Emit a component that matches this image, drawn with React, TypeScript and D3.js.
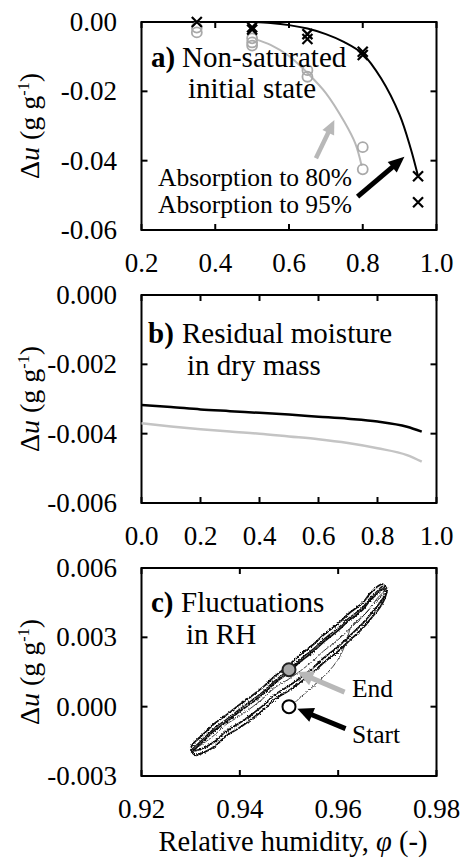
import React from 'react';
import * as d3 from 'd3';

const FONT = '"Liberation Serif", "Times New Roman", serif';
const FS_TICK = 27;
const FS_NOTE = 25.5;
const FS_TITLE = 29;

// ---------- Panel a ----------
const aXTicks = [0.2, 0.4, 0.6, 0.8, 1.0];
const aYTicks = [0, -0.02, -0.04, -0.06];
const aPhi95 = [0.35, 0.5, 0.5, 0.65, 0.65, 0.8, 0.8, 0.95, 0.95];
const aDu95 = [0.0, -0.0015, -0.0022, -0.0035, -0.0049, -0.0086, -0.0095, -0.0445, -0.052];
const aPhi80 = [0.35, 0.35, 0.5, 0.5, 0.5, 0.65, 0.65, 0.8, 0.8];
const aDu80 = [-0.0016, -0.003, -0.0047, -0.0059, -0.0068, -0.0139, -0.0158, -0.0361, -0.0425];
const aFit95Phi = [0.5, 0.55, 0.6, 0.65, 0.7, 0.75, 0.8, 0.85, 0.9, 0.93, 0.95];
const aFit95Du = [0.0, -0.0003, -0.0009, -0.0019, -0.0035, -0.0058, -0.0092, -0.0163, -0.0268, -0.0365, -0.0445];
const aFit80Phi = [0.51, 0.55, 0.6, 0.65, 0.7, 0.75, 0.78, 0.797];
const aFit80Du = [-0.005, -0.0066, -0.0098, -0.0147, -0.0205, -0.0288, -0.0351, -0.0415];

// ---------- Panel b ----------
const bXTicks = [0, 0.2, 0.4, 0.6, 0.8, 1.0];
const bYTicks = [0, -0.002, -0.004, -0.006];
const bPhi = [0, 0.1, 0.2, 0.3, 0.4, 0.5, 0.6, 0.7, 0.8, 0.9, 0.95];
const bBlack = [-0.00317, -0.00323, -0.0033, -0.00335, -0.0034, -0.00345, -0.00351, -0.00357, -0.00365, -0.0038, -0.00394];
const bGray = [-0.0037, -0.00379, -0.00387, -0.00394, -0.004, -0.00408, -0.00416, -0.00427, -0.00442, -0.00462, -0.00481];

// ---------- Panel c ----------
const cXTicks = [0.92, 0.94, 0.96, 0.98];
const cYTicks = [0.006, 0.003, 0.0, -0.003];
const cUpperPhi = [0.9699, 0.969, 0.968, 0.9665, 0.965, 0.962, 0.96, 0.957, 0.955, 0.952, 0.95, 0.947, 0.945, 0.942, 0.94, 0.937, 0.935, 0.933, 0.9315, 0.9305, 0.93];
const cUpper1 = [0.0051, 0.0053, 0.0052, 0.0049, 0.0045, 0.004, 0.0036, 0.0031, 0.0027, 0.0022, 0.0018, 0.0013, 0.0009, 0.0004, 0.0001, -0.0004, -0.0007, -0.0011, -0.0014, -0.0016, -0.0018];
const cUpper2 = [0.0049, 0.0051, 0.0049, 0.0046, 0.0042, 0.0037, 0.0033, 0.0028, 0.0024, 0.0019, 0.0015, 0.001, 0.0006, 0.0001, -0.0002, -0.0007, -0.001, -0.0014, -0.0017, -0.0019, -0.0019];
const cUpper3 = [0.005, 0.0052, 0.005, 0.0047, 0.0043, 0.0038, 0.0034, 0.0029, 0.0025, 0.002, 0.0016, 0.0011, 0.0007, 0.0002, -0.0001, -0.0006, -0.0009, -0.0013, -0.0016, -0.0018, -0.0019];
const cLowerPhi = [0.93, 0.931, 0.9325, 0.935, 0.937, 0.94, 0.942, 0.945, 0.947, 0.95, 0.952, 0.955, 0.957, 0.96, 0.962, 0.965, 0.967, 0.9685, 0.9695, 0.9699];
const cLower1 = [-0.0019, -0.0021, -0.002, -0.0017, -0.0013, -0.0009, -0.0006, -0.0001, 0.0003, 0.0007, 0.001, 0.0015, 0.0019, 0.0024, 0.0028, 0.0034, 0.0039, 0.0043, 0.0047, 0.005];
const cLower2 = [-0.0019, -0.0019, -0.0018, -0.0015, -0.0011, -0.0007, -0.0004, 0.0001, 0.0005, 0.0009, 0.0012, 0.0017, 0.0021, 0.0026, 0.003, 0.0036, 0.0041, 0.0045, 0.0048, 0.005];
const cInner = [-0.0019, -0.0018, -0.0016, -0.0012, -0.0008, -0.0004, -0.0001, 0.0004, 0.0008, 0.0012, 0.0015, 0.002, 0.0024, 0.0029, 0.0033, 0.0039, 0.0044, 0.0047, 0.0049, 0.005];
const cStartPhi = [0.95, 0.9508, 0.9523, 0.955, 0.9584, 0.9604, 0.9618, 0.9625, 0.9638, 0.9659, 0.968, 0.9695];
const cStartDu = [0.0, 0.0001, 0.0004, 0.0009, 0.0016, 0.0022, 0.0029, 0.0034, 0.0037, 0.0041, 0.0047, 0.005];
const cStartPoint = [0.95, 0.0];
const cEndPoint = [0.95, 0.0016];

const L = 141.5;
const R = 436.5;
const PANELS = {
  a: { top: 22, bottom: 230 },
  b: { top: 295, bottom: 503 },
  c: { top: 568, bottom: 776 },
};

const zip = (xs: number[], ys: number[]) => xs.map((x, i) => [x, ys[i]] as [number, number]);

function Axes({ top, bottom, x, y, xTicks, yTicks, xDec, yDec }: any) {
  const tl = 6;
  const cy = (top + bottom) / 2;
  return (
    <g>
      <rect x={L} y={top} width={R - L} height={bottom - top} fill="none" stroke="#000" strokeWidth={2} />
      {xTicks.map((t: number) => (
        <g key={'x' + t}>
          <line x1={x(t)} x2={x(t)} y1={bottom} y2={bottom - tl} stroke="#000" strokeWidth={2} />
          <line x1={x(t)} x2={x(t)} y1={top} y2={top + tl} stroke="#000" strokeWidth={2} />
          <text x={x(t)} y={bottom + 42} textAnchor="middle" fontSize={FS_TICK} fontFamily={FONT}>
            {t.toFixed(xDec)}
          </text>
        </g>
      ))}
      {yTicks.map((t: number) => (
        <g key={'y' + t}>
          <line x1={L} x2={L + tl} y1={y(t)} y2={y(t)} stroke="#000" strokeWidth={2} />
          <line x1={R} x2={R - tl} y1={y(t)} y2={y(t)} stroke="#000" strokeWidth={2} />
          <text x={117} y={y(t) + 9} textAnchor="end" fontSize={FS_TICK} fontFamily={FONT}>
            {t.toFixed(yDec)}
          </text>
        </g>
      ))}
      <text transform={`translate(39,${cy}) rotate(-90)`} textAnchor="middle" fontSize={28} fontFamily={FONT}>
        <tspan>Δ</tspan>
        <tspan fontStyle="italic">u</tspan>
        <tspan> (g g</tspan>
        <tspan dy={-10} fontSize={16}>-1</tspan>
        <tspan dy={10}>)</tspan>
      </text>
    </g>
  );
}

function Arrow({ x1, y1, x2, y2, color, w, hl, hw }: any) {
  const dx = x2 - x1;
  const dy = y2 - y1;
  const len = Math.hypot(dx, dy);
  const ux = dx / len;
  const uy = dy / len;
  const px = -uy;
  const py = ux;
  const bx = x2 - ux * hl;
  const by = y2 - uy * hl;
  const pts = [
    [x2, y2],
    [bx + (px * hw) / 2, by + (py * hw) / 2],
    [bx - (px * hw) / 2, by - (py * hw) / 2],
  ];
  return (
    <g>
      <line x1={x1} y1={y1} x2={bx + ux} y2={by + uy} stroke={color} strokeWidth={w} />
      <polygon points={pts.map((p) => p.join(',')).join(' ')} fill={color} />
    </g>
  );
}

function Cross({ cx, cy, s }: any) {
  return (
    <path d={`M${cx - s},${cy - s}L${cx + s},${cy + s}M${cx - s},${cy + s}L${cx + s},${cy - s}`} stroke="#000" strokeWidth={2.2} />
  );
}

export default function App() {
  const ax = d3.scaleLinear().domain([0.2, 1.0]).range([L, R]);
  const ay = d3.scaleLinear().domain([0, -0.06]).range([PANELS.a.top, PANELS.a.bottom]);
  const aLine = d3
    .line<[number, number]>()
    .x((d) => ax(d[0]))
    .y((d) => ay(d[1]))
    .curve(d3.curveCatmullRom.alpha(0.5));

  const bx = d3.scaleLinear().domain([0, 1.0]).range([L, R]);
  const by = d3.scaleLinear().domain([0, -0.006]).range([PANELS.b.top, PANELS.b.bottom]);
  const bLine = d3
    .line<[number, number]>()
    .x((d) => bx(d[0]))
    .y((d) => by(d[1]))
    .curve(d3.curveMonotoneX);

  const cx = d3.scaleLinear().domain([0.92, 0.98]).range([L, R]);
  const cy = d3.scaleLinear().domain([0.006, -0.003]).range([PANELS.c.top, PANELS.c.bottom]);
  const cLine = d3
    .line<[number, number]>()
    .x((d) => cx(d[0]))
    .y((d) => cy(d[1]))
    .curve(d3.curveCatmullRom.alpha(0.5));

  const gray = '#b8b8b8';
  const grayMk = '#a9a9a9';

  return (
    <svg width={462} height={860} style={{ position: 'absolute', left: 0, top: 0, background: '#fff' }}>
      <defs>
        <filter id="rough" x="-5%" y="-5%" width="110%" height="110%">
          <feTurbulence type="fractalNoise" baseFrequency="1.4" numOctaves={2} seed={5} result="n" />
          <feDisplacementMap in="SourceGraphic" in2="n" scale={3} xChannelSelector="R" yChannelSelector="G" />
        </filter>
      </defs>
      <rect x={0} y={0} width={462} height={860} fill="#fff" />

      {/* ---------- Panel a ---------- */}
      <Axes {...PANELS.a} x={ax} y={ay} xTicks={aXTicks} yTicks={aYTicks} xDec={1} yDec={2} />
      <path d={aLine(zip(aFit80Phi, aFit80Du)) || ''} fill="none" stroke={gray} strokeWidth={2} />
      <path d={aLine(zip(aFit95Phi, aFit95Du)) || ''} fill="none" stroke="#000" strokeWidth={2} />
      {aPhi80.map((p, i) => (
        <circle key={'c80' + i} cx={ax(p)} cy={ay(aDu80[i])} r={5} fill="none" stroke={grayMk} strokeWidth={1.8} />
      ))}
      {aPhi95.map((p, i) => (
        <Cross key={'x95' + i} cx={ax(p)} cy={ay(aDu95[i])} s={5} />
      ))}
      <text x={151} y={67} fontSize={FS_TITLE} fontFamily={FONT}>
        <tspan fontWeight="bold">a)</tspan>
        <tspan x={182}>Non-saturated</tspan>
      </text>
      <text x={188} y={98} fontSize={FS_TITLE} fontFamily={FONT}>
        initial state
      </text>
      <text x={158} y={186} fontSize={FS_NOTE} fontFamily={FONT}>
        Absorption to 80%
      </text>
      <text x={158} y={213} fontSize={FS_NOTE} fontFamily={FONT}>
        Absorption to 95%
      </text>
      <Arrow x1={ax(0.673)} y1={ay(-0.0393)} x2={ax(0.723)} y2={ay(-0.0283)} color={gray} w={4.5} hl={14} hw={13} />
      <Arrow x1={ax(0.786)} y1={ay(-0.0504)} x2={ax(0.913)} y2={ay(-0.0389)} color="#000" w={5} hl={16} hw={14} />

      {/* ---------- Panel b ---------- */}
      <Axes {...PANELS.b} x={bx} y={by} xTicks={bXTicks} yTicks={bYTicks} xDec={1} yDec={3} />
      <path d={bLine(zip(bPhi, bGray)) || ''} fill="none" stroke="#c4c4c4" strokeWidth={2.5} />
      <path d={bLine(zip(bPhi, bBlack)) || ''} fill="none" stroke="#000" strokeWidth={2.5} />
      <text x={148} y={343} fontSize={FS_TITLE} fontFamily={FONT}>
        <tspan fontWeight="bold">b)</tspan>
        <tspan x={182}>Residual moisture</tspan>
      </text>
      <text x={187} y={375} fontSize={FS_TITLE} fontFamily={FONT}>
        in dry mass
      </text>

      {/* ---------- Panel c ---------- */}
      <Axes {...PANELS.c} x={cx} y={cy} xTicks={cXTicks} yTicks={cYTicks} xDec={2} yDec={3} />
      <g filter="url(#rough)" fill="none" stroke="#111">
        <path d={cLine(zip(cStartPhi, cStartDu)) || ''} strokeWidth={0.8} />
        <path d={cLine(zip(cUpperPhi, cUpper1)) || ''} strokeWidth={1.8} />
        <path d={cLine(zip(cUpperPhi, cUpper2)) || ''} strokeWidth={1.8} />
        <path d={cLine(zip(cUpperPhi, cUpper3)) || ''} strokeWidth={1.4} />
        <path d={cLine(zip(cLowerPhi, cLower1)) || ''} strokeWidth={1.8} />
        <path d={cLine(zip(cLowerPhi, cLower2)) || ''} strokeWidth={1.8} />
        <path d={cLine(zip(cLowerPhi, cInner)) || ''} strokeWidth={0.8} />
      </g>
      <circle cx={cx(cStartPoint[0])} cy={cy(cStartPoint[1])} r={6.5} fill="#fff" stroke="#000" strokeWidth={2} />
      <circle cx={cx(cEndPoint[0])} cy={cy(cEndPoint[1])} r={6.5} fill="#a8a8a8" stroke="#222" strokeWidth={2} />
      <Arrow x1={cx(0.9613)} y1={cy(0.00063)} x2={cx(0.9517)} y2={cy(0.0015)} color={gray} w={5} hl={16} hw={15} />
      <Arrow x1={cx(0.9615)} y1={cy(-0.00095)} x2={cx(0.9517)} y2={cy(-0.00009)} color="#000" w={5} hl={16} hw={15} />
      <text x={151} y={612} fontSize={FS_TITLE} fontFamily={FONT}>
        <tspan fontWeight="bold">c)</tspan>
        <tspan x={181}>Fluctuations</tspan>
      </text>
      <text x={186} y={644} fontSize={FS_TITLE} fontFamily={FONT}>
        in RH
      </text>
      <text x={352} y={697} fontSize={FS_NOTE} fontFamily={FONT}>
        End
      </text>
      <text x={352} y={743} fontSize={FS_NOTE} fontFamily={FONT}>
        Start
      </text>

      <text x={293} y={851} textAnchor="middle" fontSize={28.5} fontFamily={FONT}>
        <tspan>Relative humidity, </tspan>
        <tspan fontStyle="italic">φ</tspan>
        <tspan> (-)</tspan>
      </text>
    </svg>
  );
}
